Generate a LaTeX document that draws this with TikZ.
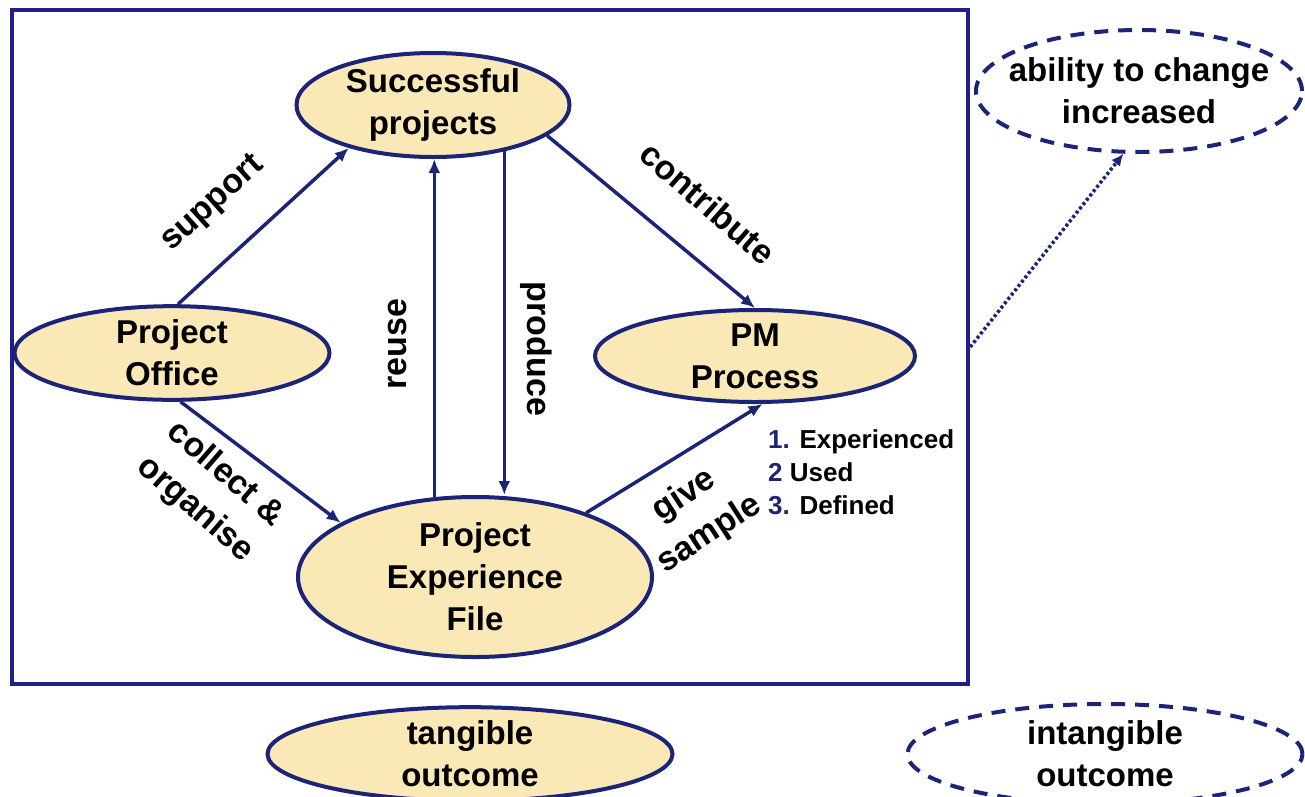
\documentclass[tikz,border=0pt]{standalone}
\usepackage{fontspec}
\setmainfont{Liberation Sans}
\usetikzlibrary{shapes.geometric,arrows.meta}
\definecolor{navy}{RGB}{28,36,120}
\definecolor{framecol}{RGB}{32,30,140}
\definecolor{cream}{RGB}{250,233,182}
\tikzstyle{outcome}=[draw=navy,line width=4pt,fill=cream,ellipse,inner sep=0pt,align=center,font=\fontsize{33}{42}\selectfont\bfseries]
\tikzstyle{soft}=[outcome,fill=white,dash pattern=on 14pt off 10pt]
\tikzstyle{lbl}=[align=center,inner sep=0pt,font=\fontsize{34}{46}\selectfont\bfseries]

\begin{document}
\begin{tikzpicture}[x=1pt,y=-1pt,
conn/.style={draw=navy,line width=3.5pt,-{Latex[length=14pt,width=12pt]}}]
\useasboundingbox (0,0) rectangle (1305,796);
\node [draw=framecol,line width=4.5pt,minimum width=956pt,minimum height=674pt,inner sep=0pt] (box) at (490,347) {};
% ellipses inside the frame
\node [outcome,minimum width=273pt,minimum height=104pt] (sp) at (433,105) {Successful\\projects};
\node [outcome,minimum width=315pt,minimum height=87pt] (po) at (172,353) {Project\\Office};
\node [outcome,minimum width=320pt,minimum height=92pt] (pm) at (755,356) {PM\\Process};
\node [outcome,minimum width=354pt,minimum height=160pt] (pef) at (475,577) {Project\\Experience\\File};
% legend
\node [outcome,minimum width=405pt,minimum height=84pt] (tang) at (470,754) {tangible\\outcome};
\node [soft,minimum width=395pt,minimum height=100pt] (intang) at (1105,754) {intangible\\outcome};
\node [soft,inner xsep=-16pt,minimum width=326pt,minimum height=122pt] (ab) at (1139,91) {ability to change\\increased};
\node [anchor=north west,align=left,inner sep=0pt,font=\fontsize{26}{33}\selectfont\bfseries] (steps) at (768,429)
    {\textcolor{navy}{1.} Experienced\\\textcolor{navy}{2} Used\\\textcolor{navy}{3.} Defined};

\draw [conn] (po.83) -- (sp.207);
\draw [conn] (sp.-15) -- (pm.north);
\draw [conn] (po.-80) -- (pef.158);
\draw [conn] (pef.30) -- (pm.-81);
\draw [conn] (pef.117) -- (pef.117 |- sp.south);
\draw [conn] (sp.-33) -- (sp.-33 |- pef.north);
\draw [draw=navy,line width=3.5pt,dash pattern=on 3pt off 2.5pt,-{Latex[length=12pt,width=11pt]}] (box.east) -- (ab.256);

\node [lbl,rotate=42] (l1) at (213,204) {support};
\node [lbl,rotate=-41] (l2) at (708,203) {contribute};
\node [lbl,rotate=-41] (l3) at (210,492) {collect \&\\organise};
\node [lbl,rotate=33] (l4) at (697,515) {give\\sample};
\node [lbl,rotate=90] (l5) at (398,344) {reuse};
\node [lbl,rotate=-90] (l6) at (536,349) {produce};
\end{tikzpicture}
\end{document}
